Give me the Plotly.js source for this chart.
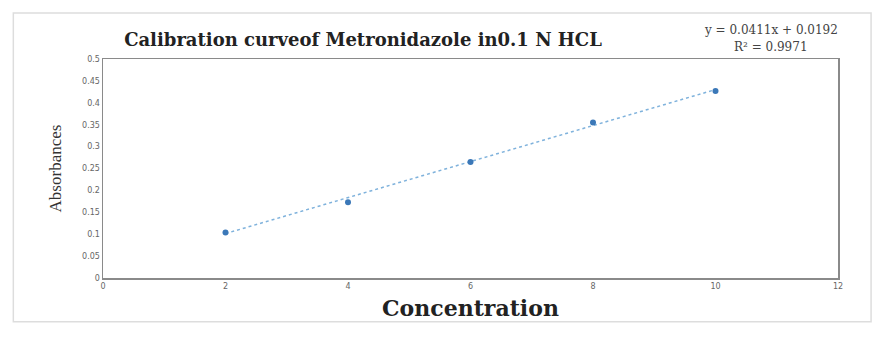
<!DOCTYPE html>
<html>
<head>
<meta charset="utf-8">
<script src="https://cdn.plot.ly/plotly-3.0.1.min.js"></script>
<style>html,body{margin:0;padding:0;background:#fff;}#chart{width:883px;height:343px;}</style>
</head>
<body>
<div id="chart"></div>
<script>
const concentration = [2, 4, 6, 8, 10];
const absorbance = [0.104, 0.173, 0.265, 0.355, 0.427];
const trendSlope = 0.0411;
const trendIntercept = 0.0192;
const trendX = [2, 10];
const xTicks = [0, 2, 4, 6, 8, 10, 12];
const yTicks = [0, 0.05, 0.1, 0.15, 0.2, 0.25, 0.3, 0.35, 0.4, 0.45, 0.5];
const yTickLabels = ['0', '0.05', '0.1', '0.15', '0.2', '0.25', '0.3', '0.35', '0.4', '0.45', '0.5'];
const equationText = 'y = 0.0411x + 0.0192';
const r2Text = 'R² = 0.9971';

const trendY = trendX.map(x => trendSlope * x + trendIntercept);

const traces = [
  {x: trendX, y: trendY, mode: 'lines', type: 'scatter',
   line: {color: '#7fb2dc', width: 1.5, dash: 'dot'}, hoverinfo: 'skip', showlegend: false},
  {x: concentration, y: absorbance, mode: 'markers', type: 'scatter',
   marker: {color: '#3b78b8', size: 6, symbol: 'circle'}, showlegend: false}
];

const serifWide = 'DejaVu Serif, serif';
const layout = {
  width: 883, height: 343,
  margin: {l: 103, r: 45, t: 59, b: 65},
  paper_bgcolor: '#ffffff', plot_bgcolor: '#ffffff',
  showlegend: false,
  title: {text: '<b>Calibration curveof Metronidazole in0.1 N HCL</b>',
          font: {family: serifWide, size: 18, color: '#222'},
          x: 363 / 883, xanchor: 'center', y: 1 - 40 / 343, yanchor: 'middle'},
  xaxis: {range: [0, 12], tickvals: xTicks, ticktext: xTicks.map(String),
          showgrid: false, zeroline: false, showline: true, linecolor: '#8a8a8a', linewidth: 1.5,
          mirror: true, ticks: '', tickfont: {family: 'DejaVu Sans, sans-serif', size: 8, color: '#666'},
          title: {text: '<b>Concentration</b>', standoff: 10,
                  font: {family: serifWide, size: 22, color: '#222'}}},
  yaxis: {range: [0, 0.5], tickvals: yTicks, ticktext: yTickLabels,
          showgrid: false, zeroline: false, showline: true, linecolor: '#8a8a8a', linewidth: 1.5,
          mirror: true, ticks: '', tickfont: {family: 'DejaVu Sans, sans-serif', size: 8, color: '#666'},
          title: {text: 'Absorbances', standoff: 16,
                  font: {family: 'Liberation Serif, Times New Roman, serif', size: 17, color: '#333'}}},
  annotations: [
    {xref: 'paper', yref: 'paper', x: (771 - 103) / 735, y: (278 - 30) / 219, xanchor: 'center', yanchor: 'middle',
     text: equationText, showarrow: false, borderpad: 0,
     font: {family: serifWide, size: 12, color: '#444'}},
    {xref: 'paper', yref: 'paper', x: (771 - 103) / 735, y: (278 - 47) / 219, xanchor: 'center', yanchor: 'middle',
     text: r2Text, showarrow: false, borderpad: 0,
     font: {family: serifWide, size: 12, color: '#444'}}
  ],
  shapes: [
    {type: 'rect', xref: 'paper', yref: 'paper', x0: -0.122, x1: 1.045, y0: -0.2, y1: 1.21,
     line: {color: '#dddddd', width: 1.5}, fillcolor: 'rgba(0,0,0,0)', layer: 'below'}
  ]
};

Plotly.newPlot('chart', traces, layout, {displayModeBar: false, staticPlot: true});
</script>
</body>
</html>
